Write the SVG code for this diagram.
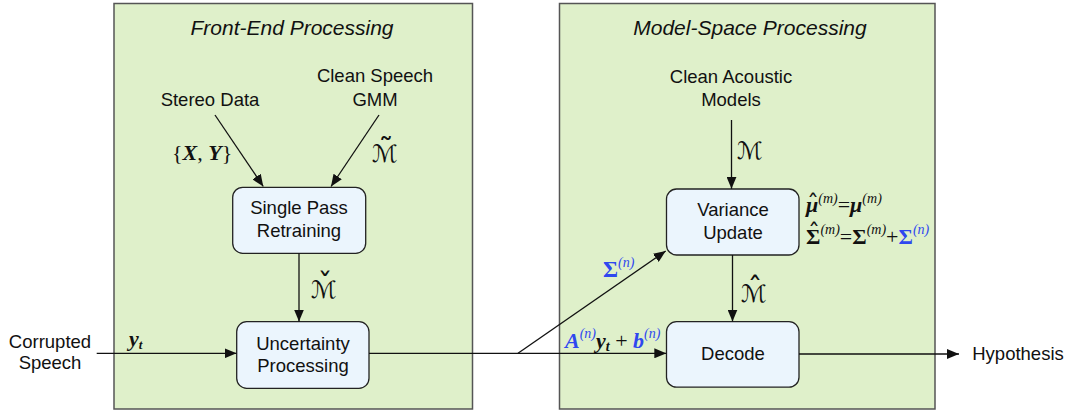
<svg xmlns="http://www.w3.org/2000/svg" width="1068" height="412" viewBox="0 0 1068 412">
<style>
.panel{fill:#dff0ca;stroke:#555;stroke-width:1.5}
.box{fill:#ebf5fd;stroke:#222;stroke-width:1.3}
.t{font-family:"Liberation Sans",Arial,sans-serif;font-size:18.5px;fill:#111;text-anchor:middle}
.title{font-family:"Liberation Sans",Arial,sans-serif;font-size:21px;font-style:italic;fill:#111;text-anchor:middle}
.m{font-family:"Liberation Serif","DejaVu Serif",serif;font-size:22px;fill:#111}
.bi{font-weight:bold;font-style:italic}
.b{font-weight:bold}
.sup{font-family:"Liberation Serif",serif;font-style:italic;font-size:14px;font-weight:normal}
.blue{fill:#2f48ef}
.scr{font-family:"DejaVu Serif","DejaVu Sans",serif;font-size:24px;fill:#111}
.acc{font-family:"DejaVu Sans",sans-serif;font-size:30px;fill:#111;text-anchor:middle}
.acc2{font-family:"DejaVu Sans",sans-serif;font-size:24px;fill:#111;text-anchor:middle}
.ln{stroke:#111;stroke-width:1.3;fill:none}
</style>
<defs>
<marker id="ah" viewBox="0 0 12 10" refX="12" refY="5" markerWidth="12" markerHeight="10" markerUnits="userSpaceOnUse" orient="auto">
<path d="M0,0 L12,5 L0,10 z" fill="#111"/>
</marker>
</defs>

<g id="panel-frontend">
<rect class="panel" x="114" y="3.5" width="358.5" height="405.5"/>
<text class="title" x="292" y="35">Front-End Processing</text>
</g>
<g id="panel-modelspace">
<rect class="panel" x="559.5" y="3.5" width="375.5" height="405.5"/>
<text class="title" x="750" y="35">Model-Space Processing</text>
</g>

<g id="stereo-data"><text class="t" x="210" y="106">Stereo Data</text></g>
<g id="clean-speech-gmm"><text class="t" x="375" y="82">Clean Speech</text><text class="t" x="375" y="106">GMM</text></g>
<g id="clean-acoustic-models"><text class="t" x="731" y="83">Clean Acoustic</text><text class="t" x="731" y="106">Models</text></g>
<g id="corrupted-speech"><text class="t" x="50" y="348">Corrupted</text><text class="t" x="50" y="369">Speech</text></g>
<g id="hypothesis"><text class="t" x="1018" y="360">Hypothesis</text></g>

<g id="single-pass">
<rect class="box" x="232.7" y="187.3" width="133" height="66" rx="10"/>
<text class="t" x="299" y="213.5">Single Pass</text>
<text class="t" x="299" y="237">Retraining</text>
</g>
<g id="uncertainty">
<rect class="box" x="236.7" y="321.7" width="132.3" height="66.6" rx="10"/>
<text class="t" x="303" y="350">Uncertainty</text>
<text class="t" x="303" y="372">Processing</text>
</g>
<g id="variance-update">
<rect class="box" x="666.5" y="189" width="132.5" height="66" rx="10"/>
<text class="t" x="733" y="216">Variance</text>
<text class="t" x="733" y="238.5">Update</text>
</g>
<g id="decode">
<rect class="box" x="666.5" y="321.7" width="132.5" height="65.5" rx="10"/>
<text class="t" x="733" y="360">Decode</text>
</g>

<g id="connectors">
<line class="ln" x1="215" y1="115" x2="263.3" y2="186.5" marker-end="url(#ah)"/>
<line class="ln" x1="379" y1="115" x2="331" y2="186.5" marker-end="url(#ah)"/>
<line class="ln" x1="299" y1="253.3" x2="299" y2="321.5" marker-end="url(#ah)"/>
<line class="ln" x1="96.7" y1="353.3" x2="236.5" y2="353.3" marker-end="url(#ah)"/>
<polyline class="ln" points="369,353.3 518,353.3"/>
<line class="ln" x1="518" y1="353.3" x2="666.3" y2="353.3" marker-end="url(#ah)"/>
<line class="ln" x1="518" y1="353.3" x2="665.7" y2="251" marker-end="url(#ah)"/>
<line class="ln" x1="731.5" y1="120" x2="731.5" y2="188.8" marker-end="url(#ah)"/>
<line class="ln" x1="732.5" y1="255" x2="732.5" y2="321.5" marker-end="url(#ah)"/>
<line class="ln" x1="799" y1="354" x2="959" y2="354" marker-end="url(#ah)"/>
</g>

<g id="labels">
<text class="m" x="172" y="160">{<tspan class="bi">X</tspan><tspan>, </tspan><tspan class="bi">Y</tspan>}</text>
<text class="scr" x="372" y="162">ℳ</text><text class="acc" x="386" y="159">˜</text>
<text class="scr" x="311" y="298">ℳ</text><text class="acc" x="325" y="295">ˇ</text>
<text class="scr" x="737" y="159">ℳ</text>
<text class="scr" x="741" y="302">ℳ</text><text class="acc" x="755" y="299">ˆ</text>
<text class="m" x="129" y="346"><tspan class="bi">y</tspan><tspan class="bi" font-size="13" dy="3">t</tspan></text>
<text class="m blue" x="603" y="277"><tspan class="b" font-size="23">Σ</tspan><tspan class="sup" dy="-10">(n)</tspan></text>
<text class="m" x="565" y="348" font-size="23"><tspan class="bi blue">A</tspan><tspan class="sup blue" dy="-10">(n)</tspan><tspan class="bi" dy="10">y</tspan><tspan class="bi" font-size="14" dy="3">t</tspan><tspan dy="-3"> + </tspan><tspan class="bi blue">b</tspan><tspan class="sup blue" dy="-10">(n)</tspan></text>
<text class="m" x="806" y="212"><tspan class="bi">μ</tspan><tspan class="sup" dy="-9">(m)</tspan><tspan dy="9">=</tspan><tspan class="bi">μ</tspan><tspan class="sup" dy="-9">(m)</tspan></text>
<text class="acc2" x="813" y="212">ˆ</text>
<text class="m" x="806" y="244"><tspan class="b">Σ</tspan><tspan class="sup" dy="-10">(m)</tspan><tspan dy="10">=</tspan><tspan class="b">Σ</tspan><tspan class="sup" dy="-10">(m)</tspan><tspan dy="10">+</tspan><tspan class="b blue">Σ</tspan><tspan class="sup blue" dy="-10">(n)</tspan></text>
<text class="acc2" x="814" y="241">ˆ</text>
</g>
</svg>
